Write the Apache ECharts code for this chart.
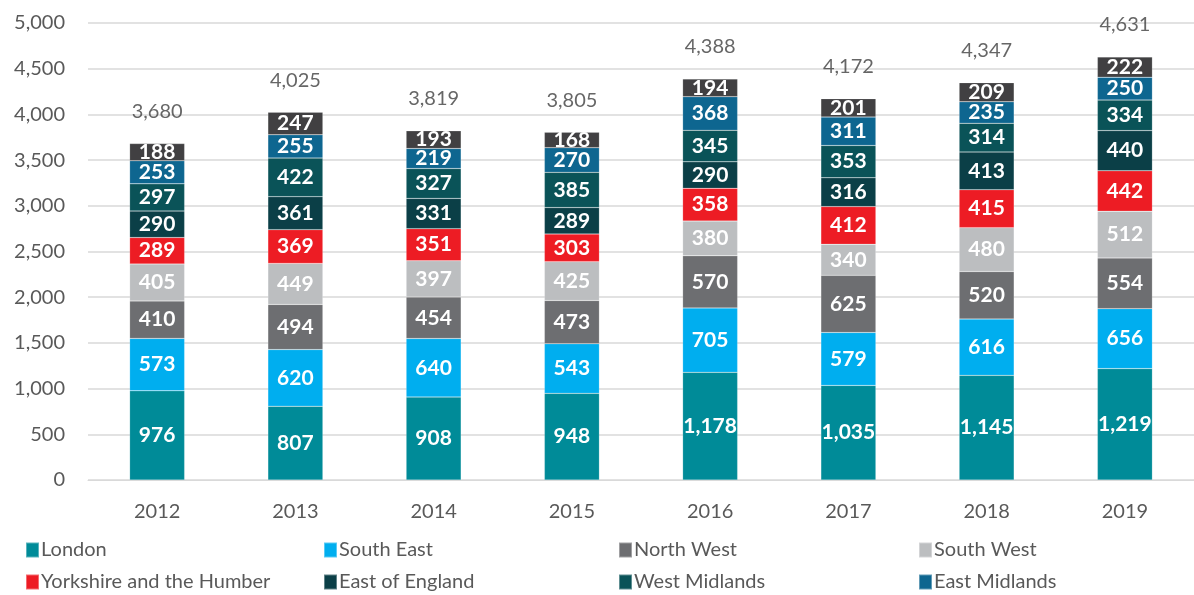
<!DOCTYPE html>
<html>
<head>
<meta charset="utf-8">
<script src="https://cdn.jsdelivr.net/npm/echarts@6/dist/echarts.min.js"></script>
<style>
  html, body { margin: 0; padding: 0; background: #fff; }
  #chart { width: 1194px; height: 595px; }
</style>
</head>
<body>
<div id="chart"></div>
<script>
// years on the x axis
const years = ['2012', '2013', '2014', '2015', '2016', '2017', '2018', '2019'];

// stacked segments, bottom to top
const london = [976, 807, 908, 948, 1178, 1035, 1145, 1219];
const southEast = [573, 620, 640, 543, 705, 579, 616, 656];
const northWest = [410, 494, 454, 473, 570, 625, 520, 554];
const southWest = [405, 449, 397, 425, 380, 340, 480, 512];
const yorkshire = [289, 369, 351, 303, 358, 412, 415, 442];
const eastOfEngland = [290, 361, 331, 289, 290, 316, 413, 440];
const westMidlands = [297, 422, 327, 385, 345, 353, 314, 334];
const eastMidlands = [253, 255, 219, 270, 368, 311, 235, 250];
const northEast = [188, 247, 193, 168, 194, 201, 209, 222];

// totals printed above each bar
const totals = [3680, 4025, 3819, 3805, 4388, 4172, 4347, 4631];

const yTicks = [0, 500, 1000, 1500, 2000, 2500, 3000, 3500, 4000, 4500, 5000];

const seriesDefs = [
  { name: 'London', data: london, color: '#008b98' },
  { name: 'South East', data: southEast, color: '#00aeef' },
  { name: 'North West', data: northWest, color: '#6d6e71' },
  { name: 'South West', data: southWest, color: '#bcbec0' },
  { name: 'Yorkshire and the Humber', data: yorkshire, color: '#ed1c24' },
  { name: 'East of England', data: eastOfEngland, color: '#0b3f47' },
  { name: 'West Midlands', data: westMidlands, color: '#0a5358' },
  { name: 'East Midlands', data: eastMidlands, color: '#0e6690' },
  { name: 'North East', data: northEast, color: '#414042' },
];

const fontFamily = 'Lato, "Noto Sans", sans-serif';
const fmt = (v) => Number(v).toLocaleString('en-GB');

const barSeries = seriesDefs.map((s) => ({
  name: s.name,
  type: 'bar',
  stack: 'total',
  barWidth: 55,
  data: s.data,
  itemStyle: { color: s.color, borderColor: 'rgba(255,255,255,0.35)', borderWidth: 0.5 },
  label: {
    show: true,
    position: 'inside',
    color: '#fff',
    fontFamily: fontFamily,
    fontWeight: 'bold',
    fontSize: 21,
    formatter: (p) => fmt(p.value),
  },
  emphasis: { disabled: true },
}));

// legend: 4 columns x 2 rows, one legend per entry so the columns line up
const legendCols = [20, 318, 613, 913];
const legendRows = [535, 567];
const legends = seriesDefs.slice(0, 8).map((s, i) => ({
  left: legendCols[i % 4],
  top: legendRows[Math.floor(i / 4)],
  itemWidth: 13,
  itemHeight: 15,
  selectedMode: false,
  data: [{ name: s.name, icon: 'rect' }],
  textStyle: {
    color: '#595959',
    fontFamily: fontFamily,
    fontSize: 20,
    padding: [0, 0, 0, -3],
  },
}));

const option = {
  animation: false,
  grid: { left: 88, right: 0, top: 23, bottom: 115, containLabel: false },
  xAxis: {
    type: 'category',
    data: years,
    axisLine: { lineStyle: { color: '#d9d9d9', width: 1 } },
    axisTick: { show: false },
    axisLabel: { color: '#595959', fontFamily: fontFamily, fontSize: 20, margin: 22 },
  },
  yAxis: {
    type: 'value',
    min: yTicks[0],
    max: yTicks[yTicks.length - 1],
    interval: 500,
    axisLine: { show: false },
    axisTick: { show: false },
    splitLine: { lineStyle: { color: '#d9d9d9', width: 1.5 } },
    axisLabel: {
      color: '#595959',
      fontFamily: fontFamily,
      fontSize: 20,
      margin: 23,
      formatter: (v) => fmt(v),
    },
  },
  legend: legends,
  series: barSeries.concat([
    {
      name: 'Total',
      type: 'scatter',
      data: totals,
      symbolSize: 0,
      silent: true,
      label: {
        show: true,
        position: 'top',
        distance: 22,
        color: '#404040',
        fontFamily: fontFamily,
        fontSize: 20,
        formatter: (p) => fmt(p.value),
      },
    },
  ]),
};

const chart = echarts.init(document.getElementById('chart'));
chart.setOption(option);
</script>
</body>
</html>
